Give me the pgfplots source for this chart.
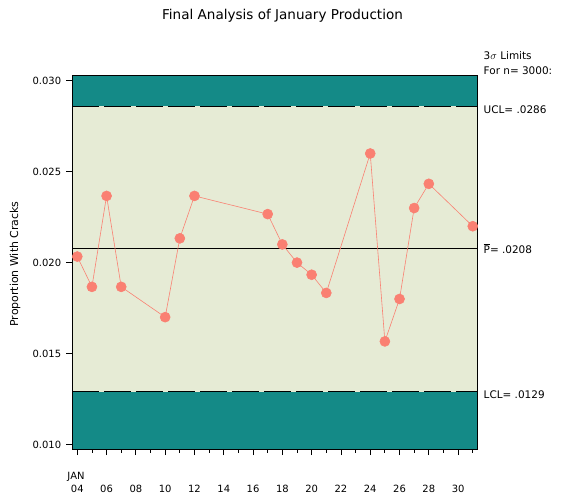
\documentclass[border=0pt]{standalone}
\usepackage{pgfplots}
\pgfplotsset{compat=1.18}
\usepackage{fontspec}
\setmainfont{DejaVu Sans}
\definecolor{tealc}{RGB}{20,138,135}
\definecolor{lightc}{RGB}{230,235,213}
\definecolor{salmonc}{RGB}{250,128,114}
\begin{document}
\begin{tikzpicture}
\begin{axis}[
  at={(72.3bp,-449bp)}, anchor=south west,
  scale only axis, width=405bp, height=373.7bp,
  xmin=3.66, xmax=31.31, ymin=0.00975, ymax=0.0303,
  axis background/.style={fill=lightc},
  axis line style={line width=0.9pt},
  tick style={black, line width=0.8pt},
  tick align=outside, tick pos=left,
  major tick length=6bp, minor tick length=3.5bp,
  xtick={4,6,...,30}, minor xtick={5,7,...,31},
  xticklabels={04,06,08,10,12,14,16,18,20,22,24,26,28,30},
  ytick={0.010,0.015,0.020,0.025,0.030},
  yticklabels={0.010,0.015,0.020,0.025,0.030},
  scaled y ticks=false,
  x tick label style={font=\fontsize{10}{12}\selectfont, anchor=north, inner sep=0pt, yshift=-30bp},
  y tick label style={font=\fontsize{10}{12}\selectfont, anchor=east, inner sep=0pt, xshift=-5bp},
  clip=false,
]
\addplot[draw=none, fill=tealc] coordinates {(3.66,0.0286) (31.31,0.0286) (31.31,0.0303) (3.66,0.0303)} -- cycle;
\addplot[draw=none, fill=tealc] coordinates {(3.66,0.00975) (31.31,0.00975) (31.31,0.0129) (3.66,0.0129)} -- cycle;
\addplot[lightc, line width=0.9pt] coordinates {(3.66,0.0286) (31.31,0.0286)};
\addplot[black, line width=0.9pt, dash pattern=on 26.5bp off 5.5bp] coordinates {(3.66,0.0286) (31.31,0.0286)};
\addplot[lightc, line width=0.9pt] coordinates {(3.66,0.0129) (31.31,0.0129)};
\addplot[black, line width=0.9pt, dash pattern=on 26.5bp off 5.5bp] coordinates {(3.66,0.0129) (31.31,0.0129)};
\addplot[black, line width=0.9pt] coordinates {(3.66,0.020759) (31.31,0.020759)};
\addplot[salmonc, line width=0.6pt, mark=*, mark size=5bp, mark options={fill=salmonc, draw=salmonc}] table {
x y
4 0.020333
5 0.018667
6 0.023667
7 0.018667
10 0.017
11 0.021333
12 0.023667
17 0.022667
18 0.021
19 0.020
20 0.019333
21 0.018333
24 0.026
25 0.015667
26 0.018
27 0.023
28 0.024333
31 0.022
};
\draw[black, line width=0.9pt] (rel axis cs:0,0) rectangle (rel axis cs:1,1);
\end{axis}
\node[font=\fontsize{10}{12}\selectfont, anchor=north, inner sep=0pt] at (76bp,-471.7bp) {JAN};
\node[font=\fontsize{13.6}{16}\selectfont] at (282.5bp,-15.5bp) {Final Analysis of January Production};
\node[font=\fontsize{11}{13}\selectfont, rotate=90] at (15bp,-264bp) {Proportion With Cracks};
\begin{scope}[every node/.style={font=\fontsize{10.5}{12}\selectfont, anchor=base west, inner sep=0pt}]
\node at (483.5bp,-59bp) {3$\sigma$ Limits};
\node at (483.5bp,-74bp) {For n= 3000:};
\node at (483.5bp,-113.3bp) {UCL= .0286};
\node at (483.5bp,-253bp) {$\overline{\mbox{P}}$= .0208};
\node at (483.5bp,-398.3bp) {LCL= .0129};
\end{scope}
\pgfresetboundingbox
\path[use as bounding box] (0,0) rectangle (565bp,-500bp);
\end{tikzpicture}
\end{document}
